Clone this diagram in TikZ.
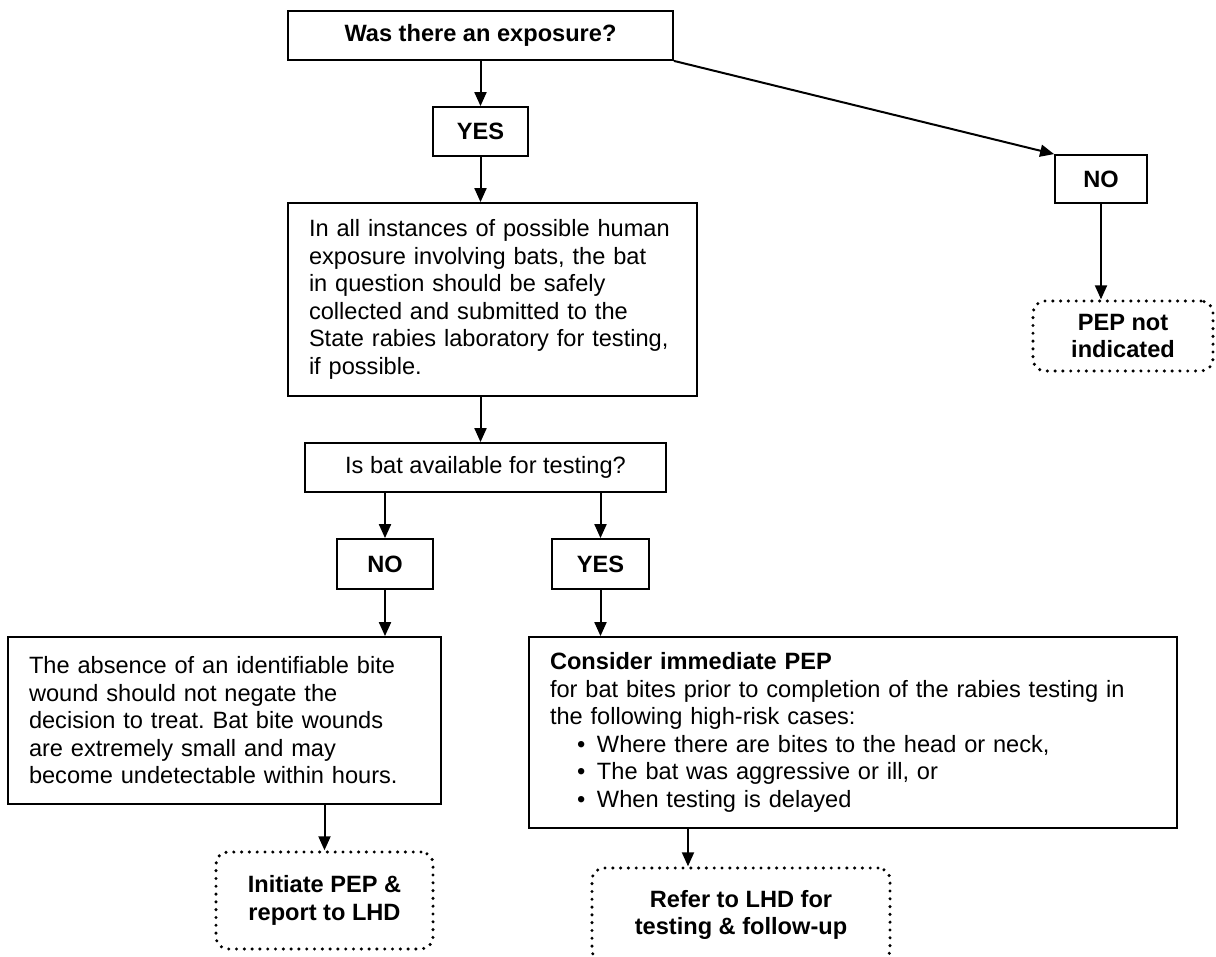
\documentclass[tikz,border=0pt]{standalone}
\usepackage{fontspec}
\setmainfont{Liberation Sans}
\usetikzlibrary{arrows.meta}
\frenchspacing

\begin{document}
\begin{tikzpicture}[x=1pt, y=-1pt,
  every node/.style={font=\fontsize{23.6}{27.5}\selectfont},
  box/.style={draw, line width=1.8pt, inner sep=0pt, align=center},
  ansbox/.style={box, font=\fontsize{23.6}{27.5}\selectfont\bfseries},
  textbox/.style={draw, line width=1.8pt, inner xsep=21pt, inner ysep=0pt, align=left},
  endbox/.style={draw, rounded corners=12pt, line width=3.4pt, dash pattern=on 0pt off 7.8pt, line cap=round, inner sep=0pt, align=center, font=\fontsize{23.6}{27.5}\selectfont\bfseries},
  arr/.style={-{Triangle[length=14pt, width=12pt]}, line width=2pt}]


\useasboundingbox (0, 0) rectangle (1216, 957);
\clip (0, 0) rectangle (1216, 957);


\node (expo) at (480.5, 35.5) [ansbox, minimum width=385pt, minimum height=49pt] {Was there an exposure?};

\node (yes1) at (480.5, 131.5) [ansbox, minimum width=95pt, minimum height=49pt] {YES};

\node (inst) at (492.5, 299.5) [textbox, text width=367pt, minimum height=193pt] {In all instances of possible human\\exposure involving bats, the bat\\in question should be safely\\collected and submitted to the\\State rabies laboratory for testing,\\if possible.};

\node (avail) at (485.5, 467.5) [box, minimum width=361pt, minimum height=49pt] {Is bat available for testing?};


\node (no1) at (1101, 179) [ansbox, minimum width=92pt, minimum height=48pt] {NO};

\node (pepno) at (1123, 336) [endbox, minimum width=180pt, minimum height=70pt] {PEP not\\indicated};


\node (no2) at (385, 564) [ansbox, minimum width=96pt, minimum height=50pt] {NO};

\node (yes2) at (600.5, 564) [ansbox, minimum width=97pt, minimum height=50pt] {YES};


\node (wound) at (224.5, 720.5) [textbox, text width=391pt, minimum height=167pt] {The absence of an identifiable bite\\wound should not negate the\\decision to treat. Bat bite wounds\\are extremely small and may\\become undetectable within hours.};

\node (cons) at (853, 732.5) [textbox, text width=606pt, minimum height=191pt] {{\bfseries Consider immediate PEP}\\for bat bites prior to completion of the rabies testing in\\the following high-risk cases:\\\hspace*{27pt}\makebox[20pt][l]{\textbullet}Where there are bites to the head or neck,\\\hspace*{27pt}\makebox[20pt][l]{\textbullet}The bat was aggressive or ill, or\\\hspace*{27pt}\makebox[20pt][l]{\textbullet}When testing is delayed};


\node (init) at (324.5, 900.5) [endbox, minimum width=217pt, minimum height=97pt] {Initiate PEP \&\\report to LHD};

\node (refer) at (741, 915) [endbox, minimum width=298pt, minimum height=94pt] {Refer to LHD for\\testing \& follow-up};



\draw [arr] (expo.south) -- (yes1.north);
\draw [arr] (yes1.south) -- (yes1.south |- inst.north);
\draw [arr] (yes1 |- inst.south) -- (yes1 |- avail.north);

\draw [arr] (expo.south east) -- (no1.north west);
\draw [arr] (no1.south) -- (no1.south |- pepno.north);

\draw [arr] (no2 |- avail.south) -- (no2.north);
\draw [arr] (yes2 |- avail.south) -- (yes2.north);

\draw [arr] (no2.south) -- (no2.south |- wound.north);
\draw [arr] (yes2.south) -- (yes2.south |- cons.north);

\draw [arr] (init |- wound.south) -- (init.north);
\draw [arr] ([xshift=-53pt]refer.north |- cons.south) -- ([xshift=-53pt]refer.north);


\end{tikzpicture}
\end{document}
